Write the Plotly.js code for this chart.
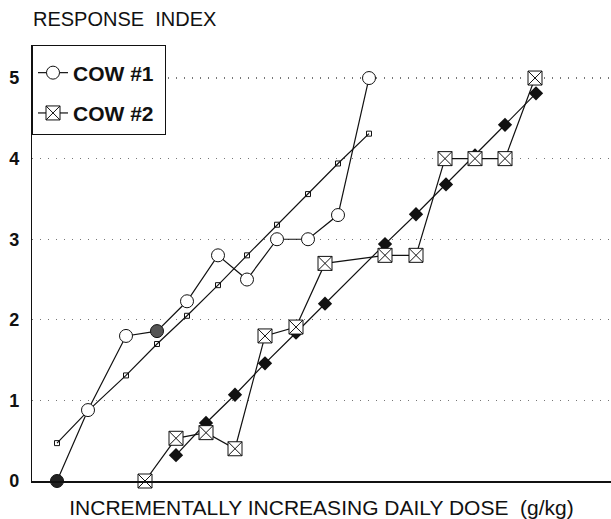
<!DOCTYPE html>
<html>
<head>
<meta charset="utf-8">
<script src="https://cdn.plot.ly/plotly-3.0.1.min.js"></script>
<style>html,body{margin:0;padding:0;background:#fff;}#chart{width:611px;height:519px;}</style>
</head>
<body>
<div id="chart"></div>
<script>
// Dose positions (arbitrary units along the unlabeled x axis)
const cow1Dose = [2.5, 5.6, 9.4, 12.5, 15.5, 18.6, 21.5, 24.5, 27.6, 30.6, 33.7];
const cow1Response = [0, 0.88, 1.8, 1.86, 2.23, 2.8, 2.5, 3.0, 3.0, 3.3, 5.0];
const cow1Fit = [0.47, 0.87, 1.31, 1.7, 2.05, 2.43, 2.8, 3.18, 3.56, 3.94, 4.31];
const cow1Fill = ['#222', 'white', 'white', '#555', 'white', 'white', 'white', 'white', 'white', 'white', 'white'];

const cow2Dose = [11.3, 14.4, 17.4, 20.3, 23.3, 26.4, 29.3, 35.3, 38.4, 41.3, 44.3, 47.3, 50.3];
const cow2Response = [0, 0.53, 0.6, 0.4, 1.8, 1.91, 2.7, 2.8, 2.8, 4.0, 4.0, 4.0, 5.0];
const cow2FitDose = [14.4, 17.4, 20.3, 23.3, 26.4, 29.3, 35.3, 38.4, 41.4, 44.3, 47.3, 50.4];
const cow2Fit = [0.32, 0.72, 1.07, 1.46, 1.84, 2.2, 2.94, 3.31, 3.68, 4.04, 4.42, 4.81];

const seriesNames = ['COW #1', 'COW #2'];
const yTicks = [0, 1, 2, 3, 4, 5];

const rev = a => a.slice().reverse();

const traces = [
  {
    x: cow1Dose, y: cow1Fit, mode: 'lines+markers', showlegend: false,
    line: {color: '#111', width: 1.2},
    marker: {symbol: 'square-open', size: 5, color: '#111', line: {width: 1}},
    cliponaxis: false, hoverinfo: 'skip'
  },
  {
    x: cow2FitDose, y: cow2Fit, mode: 'lines+markers', showlegend: false,
    line: {color: '#111', width: 1.2},
    marker: {symbol: 'diamond', size: 11, color: '#111'},
    cliponaxis: false, hoverinfo: 'skip'
  },
  {
    x: rev(cow1Dose), y: rev(cow1Response), name: seriesNames[0] + '\u00a0', mode: 'lines+markers',
    legendgroup: 'g1',
    line: {color: '#111', width: 1.2},
    marker: {symbol: 'circle', size: 13, color: rev(cow1Fill), line: {color: '#111', width: 1}},
    cliponaxis: false
  },
  {
    x: cow2Dose, y: cow2Response, name: seriesNames[1] + '\u00a0', mode: 'lines+markers',
    legendgroup: 'g2',
    line: {color: '#111', width: 1.2},
    marker: {symbol: 'square-x', size: 14, color: 'white', line: {color: '#111', width: 1}},
    cliponaxis: false
  }
];

const layout = {
  width: 611, height: 519,
  margin: {l: 32, r: 0, t: 45, b: 38},
  paper_bgcolor: 'white', plot_bgcolor: 'white',
  font: {family: 'Liberation Sans, Arial, sans-serif', color: '#111'},
  title: {
    text: 'RESPONSE\u00a0\u00a0INDEX', font: {size: 20, color: '#111'},
    x: 33/611, xanchor: 'left', xref: 'container',
    y: 1 - 19/519, yanchor: 'middle', yref: 'container'
  },
  xaxis: {
    range: [0, 57.9], showline: true, linecolor: '#111', linewidth: 1.5,
    showgrid: false, zeroline: false, showticklabels: false, ticks: '',
    title: {text: 'INCREMENTALLY INCREASING DAILY DOSE\u00a0\u00a0(g/kg)', font: {size: 21, color: '#111'}, standoff: 20}
  },
  yaxis: {
    range: [0, 5.41], tickvals: yTicks, ticktext: yTicks.map(String),
    showline: true, linecolor: '#111', linewidth: 1.2,
    showgrid: true, gridcolor: '#777', gridwidth: 1.3, griddash: '1px,7px',
    zeroline: false, ticks: '', ticklabelstandoff: 8,
    tickfont: {size: 18, weight: 'bold', color: '#111'}
  },
  legend: {
    x: 0, xanchor: 'left', y: 1, yanchor: 'top',
    bgcolor: 'white', bordercolor: '#111', borderwidth: 1,
    font: {size: 21, weight: 'bold', color: '#111'},
    title: {text: '\u00a0', font: {size: 5}},
    traceorder: 'grouped', tracegroupgap: 10,
    itemwidth: 30
  },
  showlegend: true
};

Plotly.newPlot('chart', traces, layout, {staticPlot: true});
</script>
</body>
</html>
